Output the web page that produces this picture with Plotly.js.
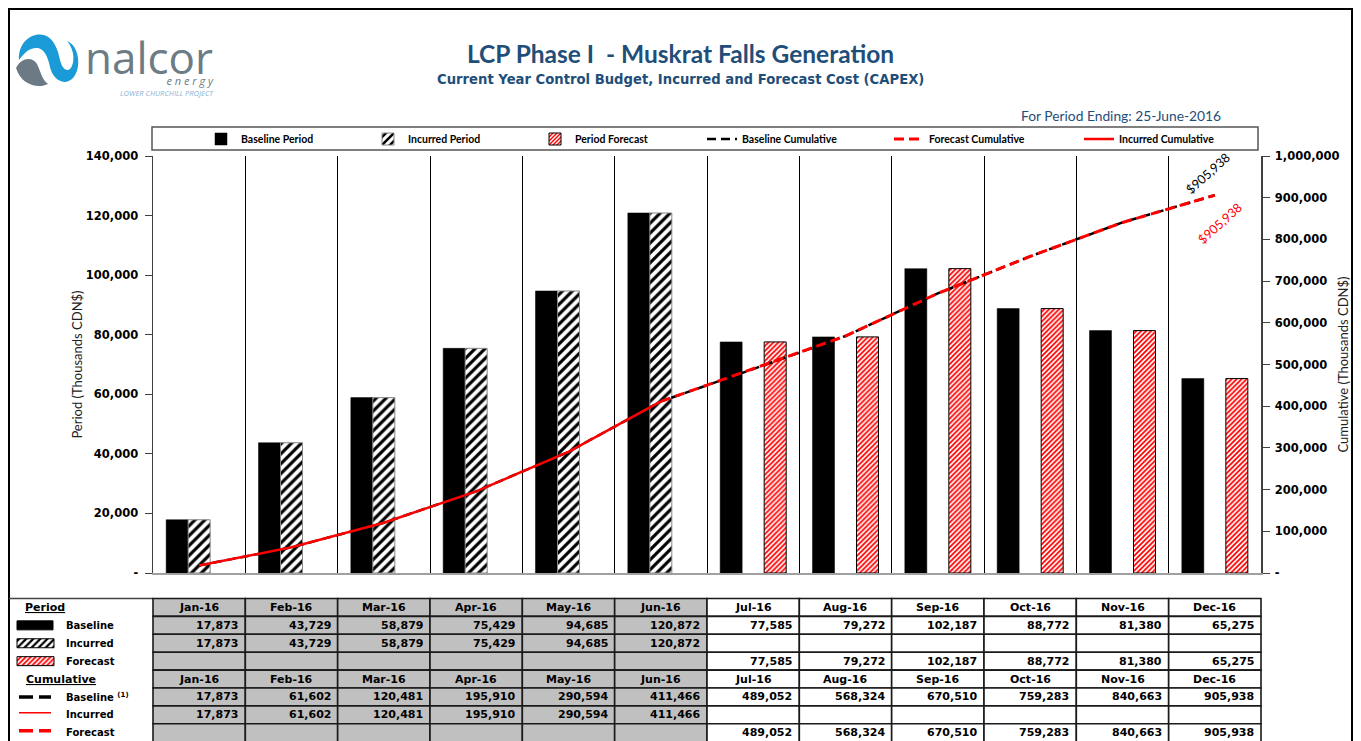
<!DOCTYPE html>
<html><head><meta charset="utf-8">
<script src="https://cdn.plot.ly/plotly-3.0.1.min.js"></script>
<style>html,body{margin:0;padding:0;background:#fff;}#chart{width:1361px;height:741px;}</style>
</head><body><div id="chart"></div>
<script>
// ---------------- DATA ----------------
const months = ['Jan-16','Feb-16','Mar-16','Apr-16','May-16','Jun-16','Jul-16','Aug-16','Sep-16','Oct-16','Nov-16','Dec-16'];
const baselinePeriod = [17873, 43729, 58879, 75429, 94685, 120872, 77585, 79272, 102187, 88772, 81380, 65275];
const incurredPeriod = [17873, 43729, 58879, 75429, 94685, 120872, null, null, null, null, null, null];
const forecastPeriod = [null, null, null, null, null, null, 77585, 79272, 102187, 88772, 81380, 65275];
const baselineCum = [17873, 61602, 120481, 195910, 290594, 411466, 489052, 568324, 670510, 759283, 840663, 905938];
const incurredCum = [17873, 61602, 120481, 195910, 290594, 411466, null, null, null, null, null, null];
const forecastCum = [null, null, null, null, null, null, 489052, 568324, 670510, 759283, 840663, 905938];
const leftTickVals = [0, 20000, 40000, 60000, 80000, 100000, 120000, 140000];
const leftTickText = ['-', '20,000', '40,000', '60,000', '80,000', '100,000', '120,000', '140,000'];
const rightTickVals = [0, 100000, 200000, 300000, 400000, 500000, 600000, 700000, 800000, 900000, 1000000];
const rightTickText = ['-', '100,000', '200,000', '300,000', '400,000', '500,000', '600,000', '700,000', '800,000', '900,000', '1,000,000'];
const periodLabels = ['Baseline', 'Incurred', 'Forecast'];
const cumLabels = ['Baseline <sup>(1)</sup>', 'Incurred', 'Forecast'];

// ---------------- LAYOUT HELPERS ----------------
const W = 1361, H = 741;
const px = x => x / W;
const py = y => 1 - y / H;
const PLOT = {x0: 153, x1: 1261, y0: 156, y1: 573};
const TBL_TOP = 598.5, ROW_H = 17.9;
const rowTop = r => TBL_TOP + r * ROW_H;
const rowCenter = r => TBL_TOP + (r + 0.5) * ROW_H;
const colX = i => PLOT.x0 + i * (PLOT.x1 - PLOT.x0) / months.length;
const fmt = v => (v === null || v === undefined) ? '' : v.toLocaleString('en-US');
function pp(str) { // pixel path -> paper path
  const t = str.trim().split(/[\s,]+/); let out = []; let nums = [];
  t.forEach(tok => {
    if (/^[A-Za-z]$/.test(tok)) { out.push(tok); }
    else { nums.push(+tok); if (nums.length === 2) { out.push(px(nums[0]).toFixed(5) + ',' + py(nums[1]).toFixed(5)); nums = []; } }
  });
  return out.join(' ');
}
const BLUE = '#1f4e79';
const NUMFONT = {family: 'DejaVu Sans', size: 11, color: '#000', weight: 'bold'};
const INC_PATTERN = {shape: '/', fgcolor: '#000', bgcolor: '#fff', size: 7, solidity: 0.45};
const FC_PATTERN = {shape: '/', fgcolor: '#ff0000', bgcolor: '#fff', size: 3.5, solidity: 0.5};

// forecast line joins the last incurred point
const lastInc = incurredCum.reduce((a, v, i) => v !== null ? i : a, -1);
const forecastLine = forecastCum.map((v, i) => v !== null ? v : (i === lastInc ? incurredCum[i] : null));

// ---------------- TRACES ----------------
const keyY = r => rowCenter(r) - TBL_TOP;
const keyBar = (r, len, pattern, color, lineColor) => ({type: 'bar', orientation: 'h', xaxis: 'x3', yaxis: 'y3',
  showlegend: false, hoverinfo: 'skip', y: [keyY(r)], x: [len], base: [7], width: [9], offset: -4.5,
  marker: {color: color, line: {color: lineColor, width: 1}, pattern: pattern}});
const keyLine = (r, dy, color, width, dash) => ({type: 'scatter', mode: 'lines', xaxis: 'x3', yaxis: 'y3',
  showlegend: false, hoverinfo: 'skip', x: [9, 41], y: [keyY(r) + dy, keyY(r) + dy], line: {color: color, width: width, dash: dash}});

const traces = [
  {type: 'bar', name: 'Baseline Period', x: months, y: baselinePeriod, legendwidth: 122,
   marker: {color: '#000', line: {color: '#000', width: 0.5}}},
  {type: 'bar', name: 'Incurred Period', x: months, y: incurredPeriod, legendwidth: 122,
   marker: {color: '#fff', line: {color: '#888', width: 1}, pattern: INC_PATTERN}},
  {type: 'bar', name: 'Period Forecast', x: months, y: forecastPeriod, legendwidth: 122,
   marker: {color: '#fff', line: {color: '#000', width: 1}, pattern: FC_PATTERN}},
  {type: 'scatter', mode: 'lines', name: 'Baseline Cumulative', x: months, y: baselineCum, yaxis: 'y2', legendwidth: 142,
   line: {color: '#000', width: 2.5, dash: '9px,5px'}},
  {type: 'scatter', mode: 'lines', name: 'Forecast Cumulative', x: months, y: forecastLine, yaxis: 'y2', legendwidth: 145,
   line: {color: '#ff0000', width: 3, dash: '10px,5px'}},
  {type: 'scatter', mode: 'lines', name: 'Incurred Cumulative', x: months, y: incurredCum, yaxis: 'y2', legendwidth: 110,
   line: {color: '#ff0000', width: 2.5}},
  // key glyphs in the table's left panel
  keyBar(1, 36, {shape: ''}, '#000', '#000'),
  keyBar(2, 37, {shape: '/', fgcolor: '#000', bgcolor: '#fff', size: 5, solidity: 0.45}, '#fff', '#000'),
  keyBar(3, 37, {shape: '/', fgcolor: '#ff0000', bgcolor: '#fff', size: 3.5, solidity: 0.5}, '#fff', '#000'),
  keyLine(5, 0, '#000', 3.5, '14px,6px'),
  keyLine(6, -2, '#ff0000', 1.5, 'solid'),
  keyLine(7, -2, '#ff0000', 3.5, '14px,6px')
];

// ---------------- SHAPES & ANNOTATIONS ----------------
const shapes = [];
const annotations = [];

// outer frame
shapes.push({type: 'rect', xref: 'paper', yref: 'paper', x0: px(9), x1: px(1352), y0: py(9), y1: py(760),
  line: {color: '#000', width: 2}, fillcolor: 'rgba(0,0,0,0)'});
// legend box
shapes.push({type: 'rect', xref: 'paper', yref: 'paper', x0: px(152), x1: px(1258), y0: py(127), y1: py(150),
  line: {color: '#555', width: 1.5}, fillcolor: 'rgba(0,0,0,0)'});
// logo
shapes.push({type: 'path', xref: 'paper', yref: 'paper', fillcolor: '#1a9ad6', line: {width: 0},
  path: pp('M 19 60 C 18 42 32 32 44 35 C 54 38 58 50 60 60 C 62 68 66 72 70 69 C 75 64 75 50 67 41 C 80 46 82 70 72 79 C 62 87 52 77 50 67 C 48 57 44 49 38 48 C 30 47 24 53 19 60 Z')});
shapes.push({type: 'path', xref: 'paper', yref: 'paper', fillcolor: '#6b7a85', line: {width: 0},
  path: pp('M 16 68 C 21 58 32 56 37 64 C 41 72 42 80 48 84 C 38 89 21 85 16 68 Z')});
annotations.push({xref: 'paper', yref: 'paper', x: px(216), y: py(100), xanchor: 'right', yanchor: 'bottom', align: 'right',
  showarrow: false,
  text: '<span style="font-size:44px">nalcor</span><br><span style="font-size:11px"><i>e n e r g y</i></span><br>' +
        '<span style="font-size:7.5px;color:#8ab4d6"><i>LOWER CHURCHILL PROJECT</i></span>',
  font: {family: 'Open Sans', size: 8.6, color: '#6d7b85'}});

// subtitle & period ending
annotations.push({xref: 'paper', yref: 'paper', x: px(680), y: py(79), xanchor: 'center', yanchor: 'middle', showarrow: false,
  text: 'Current Year Control Budget, Incurred and Forecast Cost (CAPEX)', font: {family: 'DejaVu Sans', size: 13.2, color: BLUE, weight: 'bold'}});
annotations.push({xref: 'paper', yref: 'paper', x: px(1223), y: py(115), xanchor: 'right', yanchor: 'middle', showarrow: false,
  text: 'For Period Ending: 25-June-2016', font: {family: 'Lato', size: 13.8, color: BLUE}});

// end labels
const lastI = months.length - 1;
annotations.push({xref: 'x', yref: 'y2', x: months[lastI], y: baselineCum[lastI], xshift: -7, yshift: 22, showarrow: false,
  textangle: -42, text: '$' + fmt(baselineCum[lastI]), font: {family: 'Lato', size: 12.5, color: '#000'}});
annotations.push({xref: 'x', yref: 'y2', x: months[lastI], y: forecastCum[lastI], xshift: 5, yshift: -28, showarrow: false,
  textangle: -42, text: '$' + fmt(forecastCum[lastI]), font: {family: 'Lato', size: 12.5, color: '#ff0000'}});

// table
const tableRows = [null, baselinePeriod, incurredPeriod, forecastPeriod, null, baselineCum, incurredCum, forecastCum];
shapes.push({type: 'line', xref: 'paper', yref: 'paper', x0: px(9), x1: px(PLOT.x0), y0: py(rowTop(0)), y1: py(rowTop(0)),
  line: {color: '#444', width: 1.5}});
tableRows.forEach((vals, r) => {
  months.forEach((m, i) => {
    shapes.push({type: 'rect', xref: 'paper', yref: 'paper', x0: px(colX(i)), x1: px(colX(i + 1)),
      y0: py(rowTop(r)), y1: py(rowTop(r + 1)), fillcolor: i < 6 ? '#c0c0c0' : '#ffffff',
      line: {color: '#1a1a1a', width: 1.6}});
    if (vals === null) {
      annotations.push({xref: 'paper', yref: 'paper', x: px((colX(i) + colX(i + 1)) / 2), y: py(rowCenter(r)),
        xanchor: 'center', yanchor: 'middle', showarrow: false, text: m, font: NUMFONT});
    } else if (vals[i] !== null) {
      annotations.push({xref: 'paper', yref: 'paper', x: px(colX(i + 1) - 5), y: py(rowCenter(r)),
        xanchor: 'right', yanchor: 'middle', showarrow: false, text: fmt(vals[i]), font: NUMFONT});
    }
  });
});
// left panel labels
const LBL = {family: 'DejaVu Sans', size: 10, color: '#000', weight: 'bold'};
annotations.push({xref: 'paper', yref: 'paper', x: px(23), y: py(rowCenter(0)), xanchor: 'left', yanchor: 'middle', showarrow: false,
  text: '<u>Period</u>', font: {family: 'DejaVu Sans', size: 11, color: '#000', weight: 'bold'}});
annotations.push({xref: 'paper', yref: 'paper', x: px(24), y: py(rowCenter(4)), xanchor: 'left', yanchor: 'middle', showarrow: false,
  text: '<u>Cumulative</u>', font: {family: 'DejaVu Sans', size: 11, color: '#000', weight: 'bold'}});
periodLabels.forEach((t, k) => annotations.push({xref: 'paper', yref: 'paper', x: px(64), y: py(rowCenter(k + 1)),
  xanchor: 'left', yanchor: 'middle', showarrow: false, text: t, font: LBL}));
cumLabels.forEach((t, k) => annotations.push({xref: 'paper', yref: 'paper', x: px(64), y: py(rowCenter(k + 5)),
  xanchor: 'left', yanchor: 'middle', showarrow: false, text: t, font: LBL}));

const TICKFONT = {family: 'DejaVu Sans', size: 11.5, color: '#000', weight: 'bold'};
const layout = {
  width: W, height: H, margin: {l: 0, r: 0, t: 0, b: 0, pad: 0},
  paper_bgcolor: '#fff', plot_bgcolor: '#fff',
  title: {text: 'LCP Phase I\u00a0 - Muskrat Falls Generation', x: 0.5, xref: 'container', xanchor: 'center',
          y: 1 - 54 / H, yref: 'container', yanchor: 'middle',
          font: {family: 'Lato', size: 24.5, color: BLUE, weight: 'bold'}},
  barmode: 'group', bargap: 0.285, bargroupgap: 0,
  showlegend: true,
  legend: {orientation: 'h', x: px(201), xanchor: 'left', y: py(139), yanchor: 'middle',
           bgcolor: 'rgba(0,0,0,0)', borderwidth: 0, traceorder: 'normal',
           font: {family: 'Lato', size: 10.5, color: '#000', weight: 'bold'}},
  xaxis: {domain: [px(PLOT.x0), px(PLOT.x1)], type: 'category', categoryarray: months, categoryorder: 'array',
          range: [-0.5, months.length - 0.5], showticklabels: false, ticks: '', tickson: 'boundaries',
          showgrid: true, gridcolor: '#000', gridwidth: 1, showline: true, linecolor: '#a0a0a0', linewidth: 2,
          zeroline: false, fixedrange: true},
  yaxis: {domain: [py(PLOT.y1), py(PLOT.y0)], range: [0, 140000], tickvals: leftTickVals, ticktext: leftTickText,
          ticks: 'outside', ticklen: 7, tickcolor: '#404040', tickwidth: 1, showline: true, linecolor: '#404040', linewidth: 1.5,
          showgrid: false, zeroline: false, tickfont: TICKFONT, ticklabelstandoff: 4, fixedrange: true,
          title: {text: 'Period (Thousands CDN$)', font: {family: 'Lato', size: 13, color: '#222'}, standoff: 0}},
  yaxis2: {overlaying: 'y', side: 'right', anchor: 'x', range: [0, 1000000], tickvals: rightTickVals, ticktext: rightTickText,
           ticks: 'outside', ticklen: 7, tickcolor: '#404040', tickwidth: 1, showline: true, linecolor: '#404040', linewidth: 1.5,
           showgrid: false, zeroline: false, tickfont: TICKFONT, ticklabelstandoff: 3, fixedrange: true,
           title: {text: 'Cumulative (Thousands CDN$)', font: {family: 'Lato', size: 13, color: '#222'}, standoff: 0}},
  xaxis3: {domain: [px(10), px(150)], anchor: 'y3', range: [0, 140], visible: false, fixedrange: true},
  yaxis3: {domain: [0, py(TBL_TOP)], anchor: 'x3', range: [H - TBL_TOP, 0], visible: false, fixedrange: true},
  shapes: shapes,
  annotations: annotations
};

Plotly.newPlot('chart', traces, layout, {staticPlot: true, displayModeBar: false});
</script></body></html>
